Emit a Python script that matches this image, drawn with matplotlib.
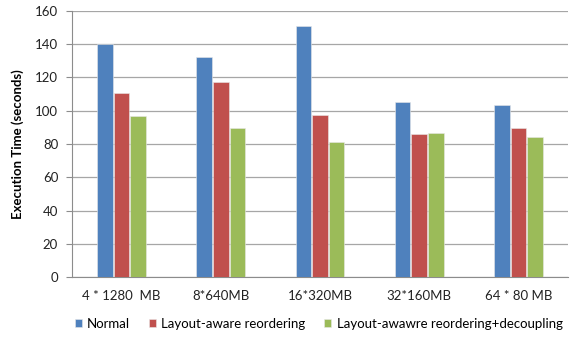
import numpy as np
import matplotlib
matplotlib.use('Agg')
import matplotlib.pyplot as plt

plt.rcParams['font.family'] = ['Lato', 'DejaVu Sans']

# Data
categories = ['4 * 1280  MB', '8*640MB', '16*320MB', '32*160MB', '64 * 80 MB']
normal = [140, 132.5, 151, 105, 103.5]
layout_aware = [110.5, 117.5, 97.5, 86, 89.5]
layout_decoupling = [97, 89.5, 81, 86.5, 84]
series_names = ['Normal', 'Layout-aware reordering', 'Layout-awawre reordering+decoupling']
colors = ['#4F81BD', '#C0504D', '#9BBB59']

fig = plt.figure(figsize=(5.73, 3.38), dpi=100)
ax = fig.add_axes([0.1257, 0.1796, 0.8656, 0.7888])

x = np.arange(len(categories))
step = 0.167
width = 0.157
for i, (vals, name, c) in enumerate(zip([normal, layout_aware, layout_decoupling], series_names, colors)):
    ax.bar(x + (i - 1) * step, vals, width=width, color=c, edgecolor='#e8e8e8',
           linewidth=0.4, label=name, zorder=3)

ax.set_xlim(-0.5, len(categories) - 0.5)
ax.set_ylim(0, 160)
ax.set_yticks(np.arange(0, 161, 20))
ax.set_xticks(x)
ax.set_xticklabels(categories, fontsize=9.5, color='#222222')
ax.tick_params(axis='y', labelsize=9.5, length=4, width=0.8, color='#8c8c8c', pad=6, labelcolor='#222222')
ax.tick_params(axis='x', length=0, pad=9)
ax.yaxis.grid(True, color='#a6a6a6', linewidth=0.9, zorder=0)
for s in ['top', 'right']:
    ax.spines[s].set_visible(False)
ax.spines['left'].set_color('#8c8c8c')
ax.spines['bottom'].set_color('#8c8c8c')
ax.set_ylabel('Execution Time (seconds)', fontsize=9.5, fontweight='bold', labelpad=8)

leg = fig.legend(loc='lower center', bbox_to_anchor=(0.556, -0.01), ncol=3, frameon=False,
                 fontsize=9.5, handlelength=0.55, handleheight=0.55, handletextpad=0.4,
                 columnspacing=1.4)

fig.savefig('out.png', dpi=100)
